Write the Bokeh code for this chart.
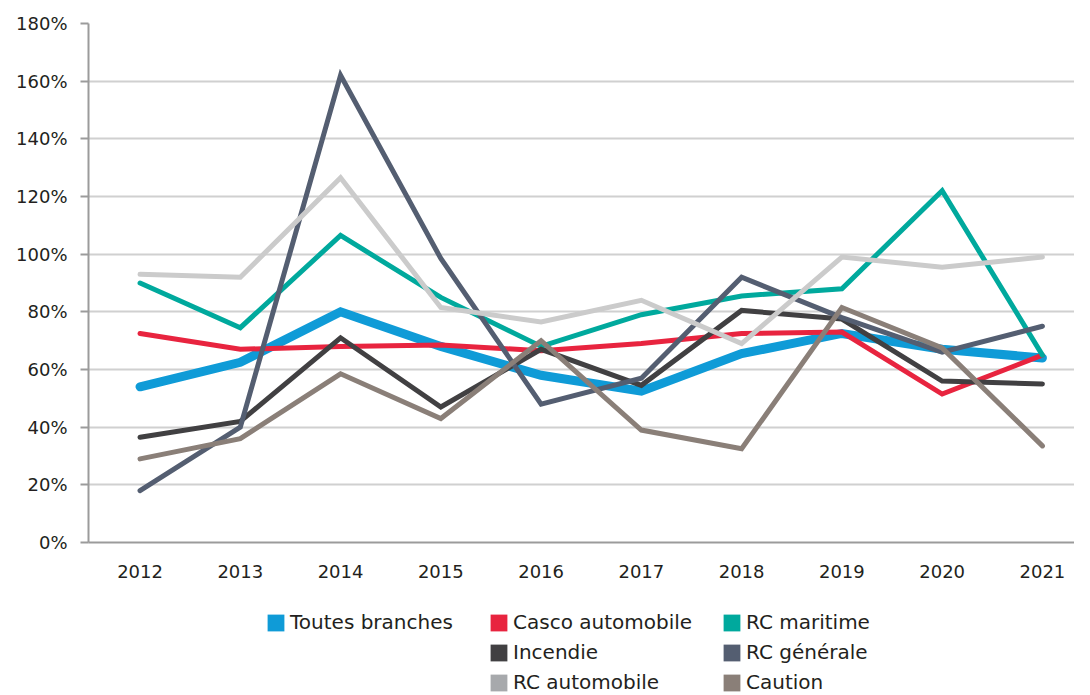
from bokeh.plotting import figure
from bokeh.models import FixedTicker, NumeralTickFormatter, Range1d, Legend, LegendItem
from bokeh.layouts import column
from bokeh.embed import file_html
from bokeh.resources import INLINE

years = [2012, 2013, 2014, 2015, 2016, 2017, 2018, 2019, 2020, 2021]
toutes_branches = [0.54, 0.625, 0.80, 0.68, 0.58, 0.525, 0.655, 0.725, 0.67, 0.64]
casco_automobile = [0.725, 0.67, 0.68, 0.685, 0.665, 0.69, 0.725, 0.73, 0.515, 0.65]
rc_maritime = [0.90, 0.745, 1.065, 0.85, 0.68, 0.79, 0.855, 0.88, 1.22, 0.65]
incendie = [0.365, 0.42, 0.71, 0.47, 0.67, 0.545, 0.805, 0.775, 0.56, 0.55]
rc_generale = [0.18, 0.40, 1.62, 0.985, 0.48, 0.57, 0.92, 0.78, 0.66, 0.75]
rc_automobile = [0.93, 0.92, 1.265, 0.815, 0.765, 0.84, 0.69, 0.99, 0.955, 0.99]
caution = [0.29, 0.36, 0.585, 0.43, 0.70, 0.39, 0.325, 0.815, 0.675, 0.335]

names = ["Toutes branches", "Casco automobile", "RC maritime", "Incendie",
         "RC générale", "RC automobile", "Caution"]
series = [toutes_branches, casco_automobile, rc_maritime, incendie,
          rc_generale, rc_automobile, caution]
line_colors = ["#0f9bd7", "#e8243f", "#00a99d", "#414042", "#545e71", "#cbcbcb", "#8a7f78"]
legend_colors = ["#0f9bd7", "#e8243f", "#00a99d", "#414042", "#545e71", "#a7a9ac", "#8a7f78"]
widths = [9, 5, 5, 5, 5, 5, 5]

FONT = "DejaVu Sans"
TXT = "#231f20"

p = figure(width=1074, height=580, output_backend="svg", toolbar_location=None,
           x_range=Range1d(2011.486, 2021.32), y_range=Range1d(0, 1.8),
           min_border_left=88, min_border_right=0, min_border_top=23, min_border_bottom=0)
p.outline_line_color = None
for ys, c, w in zip(series, line_colors, widths):
    p.line(years, ys, line_color=c, line_width=w, line_join="miter", line_cap="round")

p.xaxis.ticker = FixedTicker(ticks=years)
p.xaxis.major_tick_line_color = None
p.xaxis.minor_tick_line_color = None
p.xaxis.axis_line_color = "#9b9b9b"
p.xaxis.axis_line_width = 2
p.xaxis.major_label_text_font = FONT
p.xaxis.major_label_text_font_size = "18px"
p.xaxis.major_label_text_color = TXT
p.xaxis.major_label_standoff = 16

p.yaxis.ticker = FixedTicker(ticks=[i * 0.2 for i in range(10)])
p.yaxis.formatter = NumeralTickFormatter(format="0%")
p.yaxis.minor_tick_line_color = None
p.yaxis.major_tick_out = 8
p.yaxis.major_tick_in = 0
p.yaxis.major_tick_line_color = "#9b9b9b"
p.yaxis.major_tick_line_width = 2
p.yaxis.axis_line_color = "#9b9b9b"
p.yaxis.axis_line_width = 2
p.yaxis.major_label_text_font = FONT
p.yaxis.major_label_text_font_size = "18px"
p.yaxis.major_label_text_color = TXT
p.yaxis.major_label_standoff = 13

p.xgrid.grid_line_color = None
p.ygrid.grid_line_color = "#d0d0d0"
p.ygrid.grid_line_width = 2

# legend figure
LH = 115
lf = figure(width=1074, height=LH, output_backend="svg", toolbar_location=None,
            x_range=Range1d(0, 1), y_range=Range1d(0, 1),
            min_border_left=88, min_border_right=0, min_border_top=0, min_border_bottom=0)
lf.axis.visible = False
lf.grid.visible = False
lf.outline_line_color = None

rends = []
for c in legend_colors:
    r = lf.quad(left=[-5], right=[-4], top=[-5], bottom=[-4], fill_color=c, line_color=None)
    rends.append(r)

groups = [([0], 177, 61), ([1, 3, 5], 400, 1), ([2, 4, 6], 633, 1)]
for idxs, x, y in groups:
    items = [LegendItem(label=names[i], renderers=[rends[i]]) for i in idxs]
    lg = Legend(items=items, location=(x, y), orientation="vertical",
                padding=0, margin=0, spacing=6, label_height=24,
                glyph_width=21, glyph_height=21, label_standoff=4,
                label_text_font=FONT, label_text_font_size="20px",
                label_text_color=TXT, border_line_color=None,
                background_fill_alpha=0)
    lf.add_layout(lg, "center")

layout = column(p, lf, spacing=0)
open("out.html", "w").write(file_html(layout, INLINE))
